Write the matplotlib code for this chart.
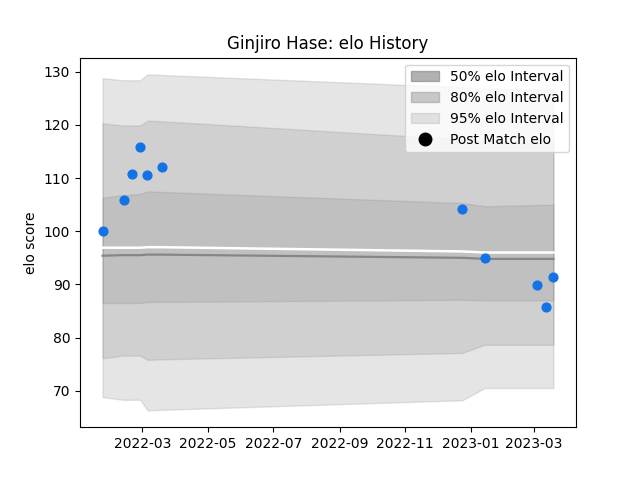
import numpy as np
import pandas as pd
import matplotlib
matplotlib.use('Agg')
import matplotlib.pyplot as plt
from matplotlib.patches import Patch
from matplotlib.lines import Line2D

# ----------------------------------------------------------------------------------------------------------------------

player = 'Ginjiro Hase'

match_dates = ['2022-01-23', '2022-02-12', '2022-02-19', '2022-02-27', '2022-03-05', '2022-03-19',
               '2022-12-24', '2023-01-14', '2023-03-04', '2023-03-12', '2023-03-19']
match_elo = [100.1, 105.9, 110.8, 115.8, 110.5, 112.1, 104.2, 95.0, 89.8, 85.7, 91.3]

band_dates = ['2022-01-23', '2022-02-11', '2022-02-27', '2022-03-06', '2022-03-18',
              '2022-12-24', '2023-01-14', '2023-03-19']
upper_95 = [128.8, 128.4, 128.4, 129.5, 129.4, 127.1, 126.8, 126.7]
upper_80 = [120.3, 119.9, 119.9, 120.8, 120.7, 117.3, 116.7, 116.7]
upper_50 = [106.3, 106.8, 107.0, 107.5, 107.4, 105.3, 104.7, 105.0]
mean_elo = [96.9, 96.9, 96.9, 97.0, 97.0, 96.2, 96.0, 96.0]
median_elo = [95.4, 95.5, 95.5, 95.6, 95.6, 95.0, 94.8, 94.8]
lower_50 = [86.5, 86.5, 86.5, 86.7, 86.7, 87.1, 87.0, 87.0]
lower_80 = [76.1, 76.6, 76.6, 75.8, 75.9, 77.1, 78.65, 78.65]
lower_95 = [68.8, 68.3, 68.3, 66.3, 66.4, 68.2, 70.5, 70.5]

# ----------------------------------------------------------------------------------------------------------------------

if __name__ == '__main__':

    md = pd.to_datetime(match_dates)
    bd = pd.to_datetime(band_dates)

    fig, ax = plt.subplots(figsize=(6.4, 4.8), dpi=100)

    ax.fill_between(bd, lower_95, upper_95, color='grey', alpha=0.2)
    ax.fill_between(bd, lower_80, upper_80, color='grey', alpha=0.2)
    ax.fill_between(bd, lower_50, upper_50, color='grey', alpha=0.2)
    ax.plot(bd, mean_elo, color='white', linewidth=1.8)
    ax.plot(bd, median_elo, color='grey', alpha=0.9, linewidth=1.6)
    ax.scatter(md, match_elo, color='#1373e6', s=40, zorder=3)

    handles = [Patch(color='grey', alpha=0.6, label='50% elo Interval'),
               Patch(color='grey', alpha=0.4, label='80% elo Interval'),
               Patch(color='grey', alpha=0.2, label='95% elo Interval'),
               Line2D([0], [0], marker='o', linestyle='none', color='black', markersize=9,
                      label='Post Match elo')]
    ax.legend(handles=handles, loc='upper right')

    ax.set_title(f'{player}: elo History')
    ax.set_ylabel('elo score')

    fig.savefig('out.png')
    print('Main done.')
